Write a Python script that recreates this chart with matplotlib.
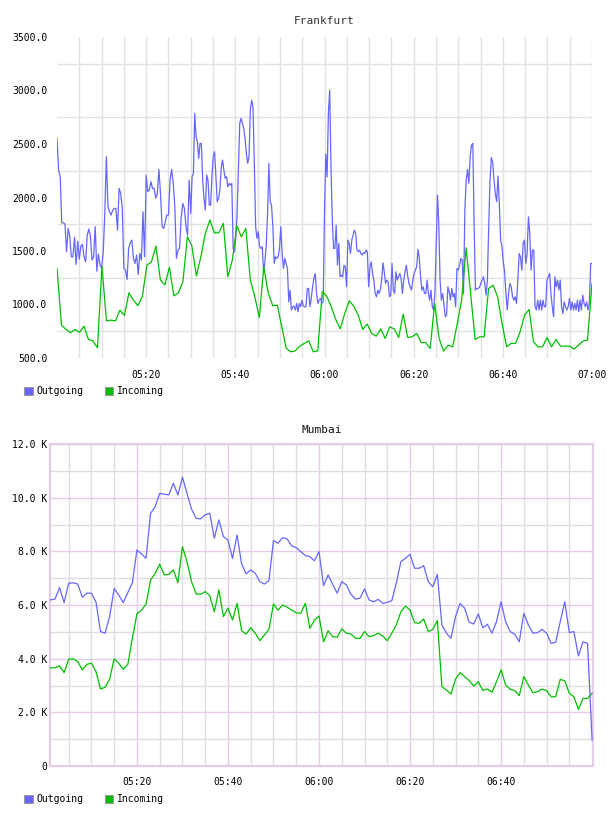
import matplotlib
matplotlib.use("Agg")
import matplotlib.pyplot as plt
import numpy as np
from matplotlib.patches import Patch
from matplotlib.ticker import FixedLocator, FuncFormatter, MultipleLocator

# ---------------------------------------------------------------
# data (minutes after 05:00)
# ---------------------------------------------------------------
# Frankfurt outgoing, read in four half-hour blocks
fra_out_0500 = [2553, 2257, 2194, 1764, 1764, 1752, 1493, 1711, 1633, 1446, 1446, 1627, 1374, 1590,
                1424, 1546, 1561, 1446, 1399, 1649, 1705, 1633, 1415, 1446, 1727, 1312, 1471, 1374,
                1337, 1477, 1845, 2381, 1914, 1867, 1836, 1883, 1898, 1898, 1695, 2085, 2038, 1898,
                1337, 1321, 1234, 1524, 1577, 1602, 1431, 1384, 1462, 1281, 1477, 1415, 1867, 1446,
                2207, 2054, 2070, 2147, 2085, 2085, 1992, 2038, 2263, 2038, 1727, 1711, 1773, 1836,
                1836, 2163, 2263, 2132, 1914, 1431, 1509, 1524, 1820, 1945, 1898, 1727, 1649, 2163]
fra_out_0530 = [1851, 2194, 2225, 2786, 2568, 2521, 2366, 2506, 2506, 2163, 1992, 1883, 2210, 2163,
                1929, 1929, 2194, 2387, 2428, 2194, 1960, 1992, 2070, 2272, 2350, 2256, 2179, 2194,
                2101, 2132, 2116, 2132, 1524, 1493, 1633, 1851, 2288, 2693, 2740, 2693, 2646, 2553,
                2412, 2319, 2381, 2817, 2911, 2849, 2319, 1727, 1618, 1680, 1540, 1524, 1540, 1306,
                1399, 1555, 1851, 2319, 1960, 1929, 1727, 1384, 1446, 1431, 1446, 1524, 1727, 1477,
                1337, 1431, 1384, 1337, 1025, 1134, 948, 979, 985, 948, 1010, 932, 1010, 979,
                1041, 985, 979, 979, 1150, 1150, 979, 1057, 1166, 1244, 1290, 1103, 1010, 1041,
                1057, 1010, 1025]
fra_out_0600 = [1851, 2406, 2194, 2786, 3004, 2288, 1789, 1524, 1524, 1742, 1368, 1571, 1259, 1275,
                1259, 1368, 1353, 1166, 1602, 1571, 1477, 1602, 1649, 1695, 1664, 1509, 1493, 1509,
                1477, 1462, 1484, 1477, 1509, 1493, 1166, 1353, 1399, 1290, 1228, 1103, 1072, 1134,
                1103, 1134, 1228, 1390, 1306, 1197, 1228, 1212, 1072, 1088, 1384, 1134, 1103, 1306,
                1228, 1259, 1290, 1244, 1103, 1228, 1306, 1368, 1275, 1197, 1166, 1134, 1228, 1290,
                1321, 1353, 1515, 1431, 1259, 1134, 1166, 1103, 1103, 1228, 1103, 1041, 1134, 979,
                948, 1103, 1540, 2023, 1758, 1228, 1041, 1103, 994, 885, 901, 1166, 1119, 1041,
                1150, 1072, 1103, 979, 1337]
fra_out_0630 = [1321, 1368, 1431, 1415, 1103, 1883, 2163, 2263, 2132, 2381, 2490, 2506, 1727, 1134,
                1150, 1150, 1159, 1197, 1228, 1259, 1197, 1088, 1228, 1727, 2163, 2375, 2325, 2163,
                2038, 1960, 2200, 1945, 1602, 1540, 1399, 1306, 1103, 948, 1103, 1197, 1166, 1072,
                1041, 1072, 1010, 1228, 1477, 1446, 1321, 1571, 1602, 1384, 1477, 1820, 1664, 1321,
                1509, 1509, 979, 948, 1041, 948, 1041, 948, 1041, 979, 979, 1228, 1259, 1290,
                1103, 979, 885, 1259, 1166, 1228, 1134, 1228, 979, 916, 1025, 979, 948, 979,
                1057, 948, 1025, 948, 1010, 948, 1041, 932, 1041, 948, 1088, 1010, 979, 1025,
                948, 1010, 1384, 1384]

# Frankfurt incoming, one value per minute 05:00 - 07:00
fra_in = [1337, 807, 767, 736, 767, 739, 798, 673, 660, 595, 1353, 847, 854, 847, 947, 898, 1109,
          1041, 988, 1078, 1368, 1399, 1546, 1228, 1184, 1347, 1081, 1109, 1212, 1633,
          1549, 1268, 1446, 1664, 1789, 1670, 1670, 1758, 1259, 1415, 1736, 1633, 1711, 1228,
          1072, 879, 1353, 1104, 988, 994, 791, 589, 558, 567, 611, 636, 660, 558, 567, 1119,
          1078, 979, 860, 772, 916, 1035, 985, 901, 767, 817, 730, 704, 772, 683, 791, 772,
          692, 910, 692, 698, 730, 645, 645, 589, 1010, 683, 564, 620, 604, 814,
          1041, 1530, 1104, 673, 698, 698, 1150, 1181, 1072, 823, 604, 636, 636, 745, 901,
          953, 651, 604, 604, 692, 604, 673, 611, 611, 611, 583, 620, 658, 667, 1197]

# Mumbai, one value per minute 05:01 - 07:00
mum_out = [6190, 6220, 6650, 6090, 6810, 6830, 6780, 6290, 6440, 6440,
           6110, 5010, 4950, 5570, 6620, 6370, 6090, 6460, 6830, 8050,
           7900, 7740, 9420, 9660, 10160, 10130, 10100, 10540, 10100, 10760,
           10160, 9570, 9230, 9210, 9360, 9420, 8490, 9170, 8550, 8420,
           7740, 8610, 7530, 7160, 7310, 7180, 6870, 6780, 6910, 8400,
           8300, 8510, 8460, 8200, 8140, 7990, 7840, 7800, 7650, 7990,
           6720, 7120, 6770, 6440, 6870, 6750, 6400, 6220, 6250, 6600,
           6190, 6120, 6210, 6060, 6100, 6160, 6830, 7620, 7740, 7890,
           7370, 7370, 7470, 6870, 6680, 7140, 5260, 4950, 4760, 5570,
           6060, 5880, 5360, 5290, 5670, 5150, 5280, 4950, 5380, 6120,
           5380, 5010, 4910, 4630, 5690, 5260, 4950, 4970, 5090, 4950,
           4570, 4610, 5380, 6120, 4970, 5010, 4100, 4630, 4570, 970]
mum_in = [3660, 3660, 3730, 3480, 3980, 3990, 3890, 3580, 3790, 3830,
          3520, 2870, 2930, 3240, 3990, 3830, 3600, 3790, 4760, 5670,
          5810, 6030, 6930, 7180, 7520, 7120, 7140, 7310, 6830, 8170,
          7610, 6870, 6410, 6400, 6500, 6350, 5750, 6560, 5570, 5880,
          5440, 6060, 5040, 4920, 5150, 4950, 4670, 4880, 5090, 6040,
          5810, 6000, 5920, 5810, 5710, 5690, 6060, 5130, 5440, 5590,
          4630, 5040, 4820, 4800, 5110, 4950, 4920, 4760, 4750, 5010,
          4820, 4860, 4950, 4850, 4670, 4950, 5260, 5750, 5960, 5810,
          5340, 5320, 5480, 5010, 5090, 5420, 2960, 2830, 2680, 3240,
          3480, 3330, 3180, 2980, 3140, 2810, 2870, 2750, 3140, 3580,
          3020, 2860, 2810, 2620, 3330, 3020, 2730, 2770, 2870, 2810,
          2580, 2580, 3230, 3170, 2710, 2580, 2110, 2520, 2520, 2710]

BLUE = "#6666ff"
GREEN = "#00c000"
MONO = "DejaVu Sans Mono"

# build time axis for the half-hour blocks
fra_out_t = []
for k, block in enumerate([fra_out_0500, fra_out_0530, fra_out_0600, fra_out_0630]):
    last = k == 3
    fra_out_t.append(np.linspace(30 * k, 30 * k + 30, len(block), endpoint=last))
fra_out_t = np.concatenate(fra_out_t)
fra_out = np.concatenate([fra_out_0500, fra_out_0530, fra_out_0600, fra_out_0630])
fra_in_t = np.linspace(0, 120, len(fra_in))
mum_t = np.arange(1, len(mum_out) + 1)


def hhmm(x, pos=None):
    m = int(round(x)) + 5 * 60
    return "%02d:%02d" % (m // 60, m % 60)


def legend(ax, y):
    handles = [Patch(facecolor=BLUE, edgecolor="#999999", linewidth=0.8),
               Patch(facecolor=GREEN, edgecolor="#999999", linewidth=0.8)]
    ax.legend(handles, ["Outgoing", "Incoming"], loc="upper left",
              bbox_to_anchor=(0.040, y), bbox_transform=fig.transFigure,
              ncol=2, frameon=False, handlelength=0.85, handleheight=0.85,
              handletextpad=0.4, columnspacing=2.2, borderpad=0, borderaxespad=0,
              prop={"family": MONO, "size": 7})


fig = plt.figure(figsize=(6.08, 8.16), dpi=100)

# ---------------------------------------------------------------
# Frankfurt
# ---------------------------------------------------------------
ax1 = fig.add_axes([57 / 608, 1 - 358 / 816, 535 / 608, 321 / 816])
ax1.plot(fra_out_t, fra_out, color=BLUE, lw=0.9, zorder=3)
ax1.plot(fra_in_t, fra_in, color=GREEN, lw=0.9, zorder=3)
ax1.set_xlim(0, 120)
ax1.set_ylim(500, 3500)
ax1.xaxis.set_major_locator(FixedLocator([20, 40, 60, 80, 100, 120]))
ax1.xaxis.set_minor_locator(FixedLocator(np.arange(5, 121, 5)))
ax1.xaxis.remove_overlapping_locs = False
ax1.xaxis.set_major_formatter(FuncFormatter(hhmm))
ax1.yaxis.set_major_locator(MultipleLocator(500))
ax1.yaxis.set_minor_locator(FixedLocator(np.arange(750, 3500, 500)))
ax1.yaxis.set_major_formatter(FuncFormatter(lambda v, p: "%.1f" % v))
ax1.grid(which="minor", color="#e2e2e2", lw=1.0, zorder=0)
ax1.grid(which="major", visible=False)
for s in ax1.spines.values():
    s.set_visible(False)
ax1.tick_params(which="both", length=0)
ax1.tick_params(axis="y", pad=7)
ax1.tick_params(axis="x", pad=9)
for lab in ax1.get_xticklabels() + ax1.get_yticklabels():
    lab.set_family(MONO)
    lab.set_fontsize(7)
ax1.set_title("Frankfurt", family=MONO, fontsize=8, color="#333333", pad=9)
legend(ax1, 1 - 386 / 816)

# ---------------------------------------------------------------
# Mumbai
# ---------------------------------------------------------------
PURPLE = "#e4cce6"
ax2 = fig.add_axes([50 / 608, 1 - 766 / 816, 543 / 608, 322 / 816])
ax2.plot(mum_t, mum_out, color=BLUE, lw=0.9, zorder=3)
ax2.plot(mum_t, mum_in, color=GREEN, lw=0.9, zorder=3)
ax2.set_xlim(0.9, 120.2)
ax2.set_ylim(0, 12000)
ax2.xaxis.set_major_locator(FixedLocator([20, 40, 60, 80, 100]))
ax2.xaxis.set_minor_locator(FixedLocator([5, 10, 15, 25, 30, 35, 45, 50, 55, 65, 70, 75,
                                          85, 90, 95, 105, 110, 115]))
ax2.xaxis.set_major_formatter(FuncFormatter(hhmm))
ax2.yaxis.set_major_locator(MultipleLocator(2000))
ax2.yaxis.set_minor_locator(FixedLocator(np.arange(1000, 12000, 2000)))
ax2.yaxis.set_major_formatter(FuncFormatter(lambda v, p: "0" if v == 0 else "%.1f K" % (v / 1000)))
ax2.grid(which="major", color=PURPLE, lw=1.0, zorder=0)
ax2.grid(which="minor", color="#e0dce0", lw=1.0, zorder=0)
for s in ax2.spines.values():
    s.set_color(PURPLE)
    s.set_linewidth(1.6)
ax2.tick_params(which="both", length=0)
ax2.tick_params(axis="y", pad=2)
ax2.tick_params(axis="x", pad=8)
for lab in ax2.get_xticklabels() + ax2.get_yticklabels():
    lab.set_family(MONO)
    lab.set_fontsize(7)
ax2.set_title("Mumbai", family=MONO, fontsize=8, color="#111111", pad=8)
legend(ax2, 1 - 794 / 816)

fig.savefig("out.png", dpi=100)
